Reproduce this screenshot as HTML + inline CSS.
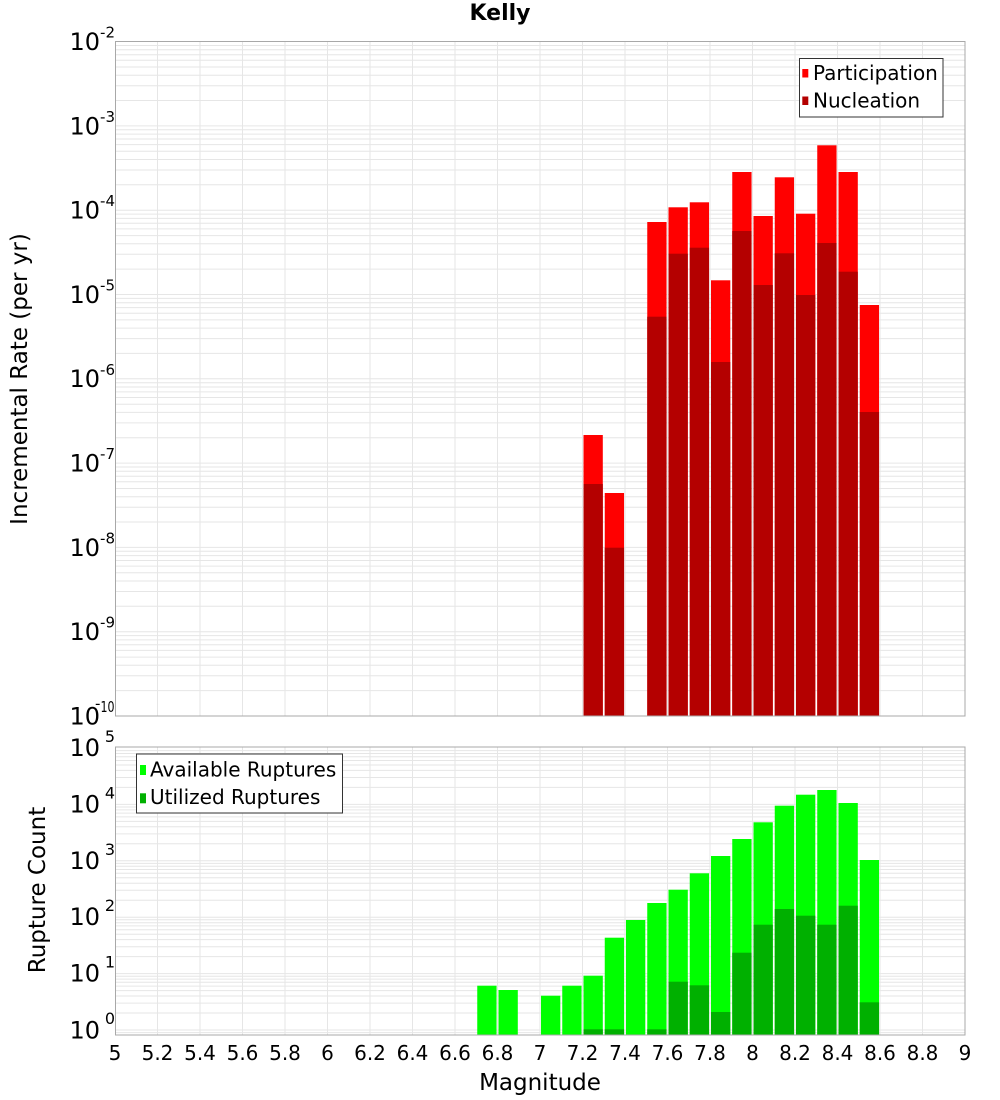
<!DOCTYPE html>
<html>
<head>
<meta charset="utf-8">
<style>
html,body{margin:0;padding:0;background:#fff;}
svg{display:block;font-family:"DejaVu Sans","Liberation Sans",sans-serif;}
</style>
</head>
<body>
<svg width="1000" height="1100" viewBox="0 0 1000 1100" xmlns="http://www.w3.org/2000/svg">
<rect x="0" y="0" width="1000" height="1100" fill="#fff"/>

<!-- Title -->
<text x="500" y="20" font-size="22" font-weight="bold" text-anchor="middle" fill="#000">Kelly</text>

<!-- ===== TOP PLOT ===== -->
<g stroke="#e6e6e6" stroke-width="1" fill="none">
<path d="M115.5 690.6H965M115.5 675.8H965M115.5 665.3H965M115.5 657.1H965M115.5 650.4H965M115.5 644.8H965M115.5 639.9H965M115.5 635.6H965
M115.5 631.7H965M115.5 606.3H965M115.5 591.5H965M115.5 581.0H965M115.5 572.8H965M115.5 566.1H965M115.5 560.5H965M115.5 555.6H965M115.5 551.3H965
M115.5 547.4H965M115.5 522.0H965M115.5 507.2H965M115.5 496.7H965M115.5 488.5H965M115.5 481.8H965M115.5 476.2H965M115.5 471.3H965M115.5 467.0H965
M115.5 463.1H965M115.5 437.7H965M115.5 422.9H965M115.5 412.4H965M115.5 404.2H965M115.5 397.5H965M115.5 391.9H965M115.5 387.0H965M115.5 382.7H965
M115.5 378.8H965M115.5 353.4H965M115.5 338.6H965M115.5 328.1H965M115.5 319.9H965M115.5 313.2H965M115.5 307.6H965M115.5 302.7H965M115.5 298.4H965
M115.5 294.5H965M115.5 269.1H965M115.5 254.3H965M115.5 243.8H965M115.5 235.6H965M115.5 228.9H965M115.5 223.3H965M115.5 218.4H965M115.5 214.1H965
M115.5 210.2H965M115.5 184.8H965M115.5 170.0H965M115.5 159.5H965M115.5 151.3H965M115.5 144.6H965M115.5 139.0H965M115.5 134.1H965M115.5 129.8H965
M115.5 125.9H965M115.5 100.5H965M115.5 85.7H965M115.5 75.2H965M115.5 67.0H965M115.5 60.3H965M115.5 54.7H965M115.5 49.8H965M115.5 45.5H965"/>
<path d="M157.5 41.5V716M200 41.5V716M242.5 41.5V716M285 41.5V716M327.5 41.5V716M370 41.5V716M412.5 41.5V716M455 41.5V716M497.5 41.5V716M540 41.5V716M582.5 41.5V716M625 41.5V716M667.5 41.5V716M710 41.5V716M752.5 41.5V716M795 41.5V716M837.5 41.5V716M880 41.5V716M922.5 41.5V716"/>
</g>

<!-- Participation bars -->
<g fill="#ff0000">
<rect x="583.5" y="435" width="19.3" height="281"/>
<rect x="604.75" y="493" width="19.3" height="223"/>
<rect x="647.25" y="222" width="19.3" height="494"/>
<rect x="668.5" y="207.3" width="19.3" height="508.7"/>
<rect x="689.75" y="202.3" width="19.3" height="513.7"/>
<rect x="711" y="280.3" width="19.3" height="435.7"/>
<rect x="732.25" y="172" width="19.3" height="544"/>
<rect x="753.5" y="216" width="19.3" height="500"/>
<rect x="774.75" y="177.3" width="19.3" height="538.7"/>
<rect x="796" y="213.7" width="19.3" height="502.3"/>
<rect x="817.25" y="145.3" width="19.3" height="570.7"/>
<rect x="838.5" y="172" width="19.3" height="544"/>
<rect x="859.75" y="305" width="19.3" height="411"/>
</g>
<!-- Nucleation bars -->
<g fill="#b40000">
<rect x="583.5" y="484" width="19.3" height="232"/>
<rect x="604.75" y="547.7" width="19.3" height="168.3"/>
<rect x="647.25" y="316.7" width="19.3" height="399.3"/>
<rect x="668.5" y="253.7" width="19.3" height="462.3"/>
<rect x="689.75" y="247.7" width="19.3" height="468.3"/>
<rect x="711" y="362" width="19.3" height="354"/>
<rect x="732.25" y="231" width="19.3" height="485"/>
<rect x="753.5" y="285" width="19.3" height="431"/>
<rect x="774.75" y="253.3" width="19.3" height="462.7"/>
<rect x="796" y="295" width="19.3" height="421"/>
<rect x="817.25" y="243" width="19.3" height="473"/>
<rect x="838.5" y="271.7" width="19.3" height="444.3"/>
<rect x="859.75" y="412" width="19.3" height="304"/>
</g>

<rect x="115.5" y="41.5" width="849.5" height="674.5" fill="none" stroke="#a8a8a8" stroke-width="1"/>

<!-- Top legend -->
<rect x="799.5" y="58.5" width="143.5" height="58.5" fill="#fff" stroke="#333" stroke-width="1"/>
<rect x="802.3" y="69" width="6" height="8.5" fill="#ff0000"/>
<rect x="802.3" y="96.5" width="6" height="8.5" fill="#b40000"/>
<text x="813" y="80" font-size="20" fill="#000">Participation</text>
<text x="813" y="107.3" font-size="20" fill="#000">Nucleation</text>

<!-- Top y ticks -->
<g font-size="24" fill="#000" text-anchor="end">
<text x="100" y="50">10</text>
<text x="100" y="134.3">10</text>
<text x="100" y="218.6">10</text>
<text x="100" y="302.9">10</text>
<text x="100" y="387.2">10</text>
<text x="100" y="471.5">10</text>
<text x="100" y="555.8">10</text>
<text x="100" y="640.1">10</text>
<text x="100" y="724.4">10</text>
</g>
<g font-size="15" fill="#000" text-anchor="end">
<text x="115" y="37.6">-2</text>
<text x="115" y="121.9">-3</text>
<text x="115" y="206.2">-4</text>
<text x="115" y="290.5">-5</text>
<text x="115" y="374.8">-6</text>
<text x="115" y="459.1">-7</text>
<text x="115" y="543.4">-8</text>
<text x="115" y="627.7">-9</text>
</g>
<text x="100.5" y="712" font-size="15" fill="#000" textLength="14" lengthAdjust="spacingAndGlyphs">10</text>
<text x="95" y="708.5" font-size="15" fill="#000">-</text>

<text transform="translate(27,379) rotate(-90)" font-size="23" text-anchor="middle" fill="#000">Incremental Rate (per yr)</text>

<!-- ===== BOTTOM PLOT ===== -->
<g stroke="#e6e6e6" stroke-width="1" fill="none">
<path d="M115.5 1032.6H965M115.5 1030H965M115.5 1013.0H965M115.5 1003.1H965M115.5 996.0H965M115.5 990.6H965M115.5 986.1H965M115.5 982.3H965M115.5 979.1H965M115.5 976.2H965
M115.5 973.6H965M115.5 956.6H965M115.5 946.7H965M115.5 939.6H965M115.5 934.2H965M115.5 929.7H965M115.5 925.9H965M115.5 922.7H965M115.5 919.8H965
M115.5 917.2H965M115.5 900.2H965M115.5 890.3H965M115.5 883.2H965M115.5 877.8H965M115.5 873.3H965M115.5 869.5H965M115.5 866.3H965M115.5 863.4H965
M115.5 860.8H965M115.5 843.8H965M115.5 833.9H965M115.5 826.8H965M115.5 821.4H965M115.5 816.9H965M115.5 813.1H965M115.5 809.9H965M115.5 807.0H965
M115.5 804.4H965M115.5 787.4H965M115.5 777.5H965M115.5 770.4H965M115.5 765.0H965M115.5 760.5H965M115.5 756.7H965M115.5 753.5H965M115.5 750.6H965"/>
<path d="M157.5 747V1035M200 747V1035M242.5 747V1035M285 747V1035M327.5 747V1035M370 747V1035M412.5 747V1035M455 747V1035M497.5 747V1035M540 747V1035M582.5 747V1035M625 747V1035M667.5 747V1035M710 747V1035M752.5 747V1035M795 747V1035M837.5 747V1035M880 747V1035M922.5 747V1035"/>
</g>

<!-- Available bars -->
<g fill="#00ff00">
<rect x="477.25" y="985.7" width="19.3" height="49.3"/>
<rect x="498.5" y="990" width="19.3" height="45"/>
<rect x="541" y="995.7" width="19.3" height="39.3"/>
<rect x="562.25" y="985.7" width="19.3" height="49.3"/>
<rect x="583.5" y="975.7" width="19.3" height="59.3"/>
<rect x="604.75" y="937.7" width="19.3" height="97.3"/>
<rect x="626" y="920" width="19.3" height="115"/>
<rect x="647.25" y="903" width="19.3" height="132"/>
<rect x="668.5" y="889.7" width="19.3" height="145.3"/>
<rect x="689.75" y="873.3" width="19.3" height="161.7"/>
<rect x="711" y="856" width="19.3" height="179"/>
<rect x="732.25" y="839" width="19.3" height="196"/>
<rect x="753.5" y="822.3" width="19.3" height="212.7"/>
<rect x="774.75" y="805.7" width="19.3" height="229.3"/>
<rect x="796" y="794.7" width="19.3" height="240.3"/>
<rect x="817.25" y="790" width="19.3" height="245"/>
<rect x="838.5" y="803" width="19.3" height="232"/>
<rect x="859.75" y="860" width="19.3" height="175"/>
</g>
<!-- Utilized bars -->
<g fill="#00b000">
<rect x="583.5" y="1029.3" width="19.3" height="5.7"/>
<rect x="604.75" y="1029.3" width="19.3" height="5.7"/>
<rect x="647.25" y="1029.3" width="19.3" height="5.7"/>
<rect x="668.5" y="981.7" width="19.3" height="53.3"/>
<rect x="689.75" y="985.3" width="19.3" height="49.7"/>
<rect x="711" y="1012" width="19.3" height="23"/>
<rect x="732.25" y="952.7" width="19.3" height="82.3"/>
<rect x="753.5" y="924.7" width="19.3" height="110.3"/>
<rect x="774.75" y="909" width="19.3" height="126"/>
<rect x="796" y="915.7" width="19.3" height="119.3"/>
<rect x="817.25" y="924.7" width="19.3" height="110.3"/>
<rect x="838.5" y="905.7" width="19.3" height="129.3"/>
<rect x="859.75" y="1002.3" width="19.3" height="32.7"/>
</g>

<rect x="115.5" y="747" width="849.5" height="288" fill="none" stroke="#a8a8a8" stroke-width="1"/>

<!-- Bottom legend -->
<rect x="136.5" y="754" width="206" height="59" fill="#fff" stroke="#333" stroke-width="1"/>
<rect x="140" y="765" width="6" height="10" fill="#00ff00"/>
<rect x="140" y="793.3" width="6" height="10" fill="#00b000"/>
<text x="150" y="776.7" font-size="20" fill="#000">Available Ruptures</text>
<text x="150" y="804" font-size="20" fill="#000">Utilized Ruptures</text>

<!-- Bottom y ticks -->
<g font-size="24" fill="#000" text-anchor="end">
<text x="100" y="756">10</text>
<text x="100" y="812.4">10</text>
<text x="100" y="868.8">10</text>
<text x="100" y="925.2">10</text>
<text x="100" y="981.6">10</text>
<text x="100" y="1038.3">10</text>
</g>
<g font-size="16" fill="#000" text-anchor="end">
<text x="115" y="742">5</text>
<text x="115" y="798.4">4</text>
<text x="115" y="854.8">3</text>
<text x="115" y="911.2">2</text>
<text x="115" y="967.6">1</text>
<text x="115" y="1024">0</text>
</g>

<text transform="translate(45,890) rotate(-90)" font-size="23" text-anchor="middle" fill="#000">Rupture Count</text>

<!-- X ticks -->
<g font-size="20" fill="#000" text-anchor="middle">
<text x="115" y="1060">5</text>
<text x="157.5" y="1060">5.2</text>
<text x="200" y="1060">5.4</text>
<text x="242.5" y="1060">5.6</text>
<text x="285" y="1060">5.8</text>
<text x="327.5" y="1060">6</text>
<text x="370" y="1060">6.2</text>
<text x="412.5" y="1060">6.4</text>
<text x="455" y="1060">6.6</text>
<text x="497.5" y="1060">6.8</text>
<text x="540" y="1060">7</text>
<text x="582.5" y="1060">7.2</text>
<text x="625" y="1060">7.4</text>
<text x="667.5" y="1060">7.6</text>
<text x="710" y="1060">7.8</text>
<text x="752.5" y="1060">8</text>
<text x="795" y="1060">8.2</text>
<text x="837.5" y="1060">8.4</text>
<text x="880" y="1060">8.6</text>
<text x="922.5" y="1060">8.8</text>
<text x="965" y="1060">9</text>
</g>

<text x="540" y="1090" font-size="23" text-anchor="middle" fill="#000">Magnitude</text>
</svg>
</body>
</html>
